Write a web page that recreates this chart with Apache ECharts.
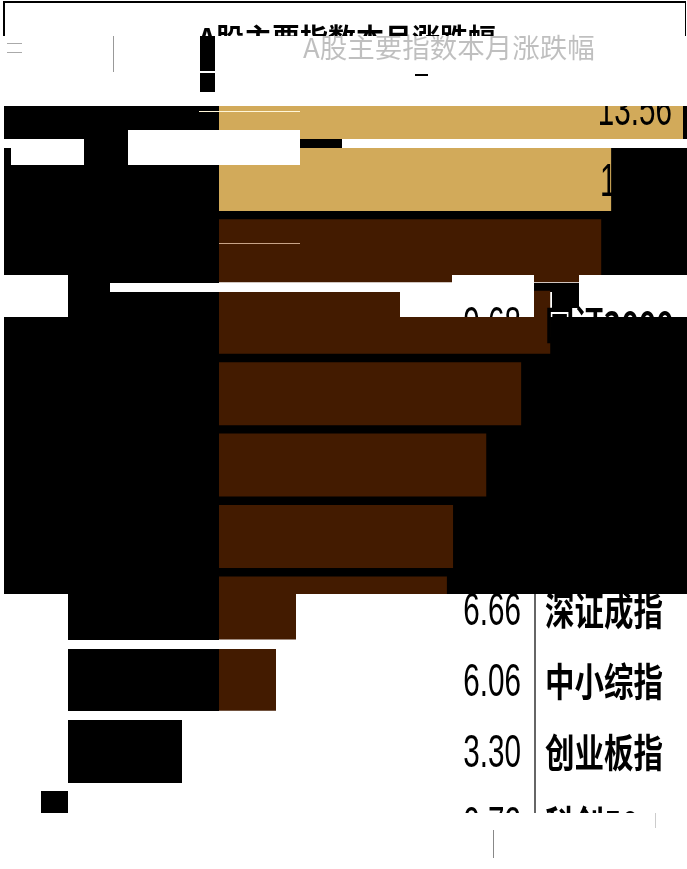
<!DOCTYPE html>
<html><head><meta charset="utf-8">
<style>html,body{margin:0;padding:0;background:#fff}#c{width:687px;height:869px}</style>
<script src="https://cdn.jsdelivr.net/npm/echarts@6/dist/echarts.min.js"></script>
</head><body><div id="c"></div>
<script>
const titleText = 'A股主要指数本月涨跌幅';
const names = ['', '', '', '国证2000', '', '', '', '深证成指', '中小综指', '创业板指', '科创50'];
const values = [13.56, 11.46, 11.17, 9.68, 8.83, 7.81, 6.84, 6.66, 6.06, 3.30, 0.72];
const goldRows = 2;
const shiftedValueRows = [0, 1];
const hiddenValueRows = [2, 4, 5, 6];
const GOLD = '#D2AA5A', BROWN = '#431B00', BLACK = '#000', WHITE = '#fff';

// damaged-image layers of the reference: [x0,y0,x1,y1,colour]
const behindBars = [
  [219,106,687,139,BLACK],[219,148,687,275,BLACK],[534,283,579,292,BLACK],[219,317,687,594,BLACK]
];
const overBars = [
  [128,130,300,165,WHITE],[342,139,687,148,WHITE],
  [452,275,534,283,WHITE],[579,275,687,317,WHITE],[110,283,534,292,WHITE],[400,292,534,317,WHITE],
  [296,594,687,649,WHITE],[219,640,296,649,WHITE],[276,649,687,720,WHITE],[182,711,687,869,WHITE]
];
const overText = [
  [4,106,128,139,BLACK],[128,106,219,130,BLACK],[84,139,128,165,BLACK],[4,148,11,165,BLACK],[300,139,342,148,BLACK],
  [4,165,219,275,BLACK],[68,275,110,292,BLACK],[110,275,219,283,BLACK],[68,292,219,317,BLACK],[552,283,579,308,BLACK],
  [4,317,219,594,BLACK],[552,317,687,353,BLACK],[460,317,526,346,BROWN],
  [68,594,219,640,BLACK],[68,649,219,711,BLACK],[68,720,182,783,BLACK],[41,791,68,813,BLACK],
  [0,813,687,869,WHITE],[0,36,687,106,WHITE],
  [4,1,686,3,BLACK],[3,1,5,36,BLACK],[685,1,686,36,BLACK],[685,106,687,139,BLACK],
  [200,36,215,71,BLACK],[200,73,215,92,BLACK],[415,74,428,76,BLACK],
  [113,36,114,72,'#999'],[7,43,22,44,'#aaa'],[7,52,22,53,'#aaa'],
  [199,111,300,112,'#FFF6D8'],[219,243,300,244,'#C8A488'],
  [534,594,536,813,'#666'],[493,830,494,858,'#888'],[655,813,656,828,'#ccc']
];
const rects = (list, z) => list.map(r => ({
  type:'rect', z, silent:true,
  shape:{x:r[0],y:r[1],width:r[2]-r[0],height:r[3]-r[1]},
  style:{fill:r[4]}
}));

const chart = echarts.init(document.getElementById('c'), null, {renderer:'canvas'});
const textFont = '"Liberation Sans",sans-serif';
const cjkFont = '"Noto Sans CJK SC",sans-serif';
chart.setOption({
  animation:false,
  backgroundColor:'#fff',
  title:{text:titleText,left:193,top:19,z:1,
    textStyle:{fontFamily:cjkFont,fontSize:28,fontWeight:'bold',color:'#000'}},
  grid:{left:219,top:72.3,width:464,height:785.6},
  xAxis:{type:'value',min:0,max:13.56,show:false},
  yAxis:{type:'category',inverse:true,data:names,axisLine:{show:false},axisTick:{show:false},axisLabel:{show:false}},
  series:[{
    type:'bar',barWidth:63,z:2,
    data:values.map((v,i)=>({value:v,itemStyle:{color:i<goldRows?GOLD:BROWN}}))
  }]
});
const rowY = i => chart.convertToPixel({yAxisIndex:0}, i);
const valueTexts = values.map((v,i)=>hiddenValueRows.includes(i)?null:({
  type:'text',z:4,silent:true,x:shiftedValueRows.includes(i)?672:521,y:rowY(i)+4,scaleX:0.78,scaleY:1.2,
  style:{text:v.toFixed(2),align:'right',verticalAlign:'middle',fontFamily:textFont,fontSize:38,fill:'#000'}
})).filter(Boolean);
const nameTexts = names.map((n,i)=>n?({
  type:'text',z:4,silent:true,x:545,y:rowY(i)+2,scaleX:1,scaleY:1.3,
  style:{text:n,align:'left',verticalAlign:'middle',fontFamily:cjkFont,fontWeight:'bold',fontSize:29.5,fill:'#000'}
}):null).filter(Boolean);
chart.setOption({graphic:{elements:[
  ...rects(behindBars,1),
  ...rects(overBars,3),
  ...valueTexts,
  ...nameTexts,
  ...rects(overText,5),
  {type:'text',z:6,silent:true,x:303,y:34,
    style:{text:titleText,fontFamily:cjkFont,fontSize:27.5,fill:'#000',opacity:0.25}}
]}});
</script></body></html>
